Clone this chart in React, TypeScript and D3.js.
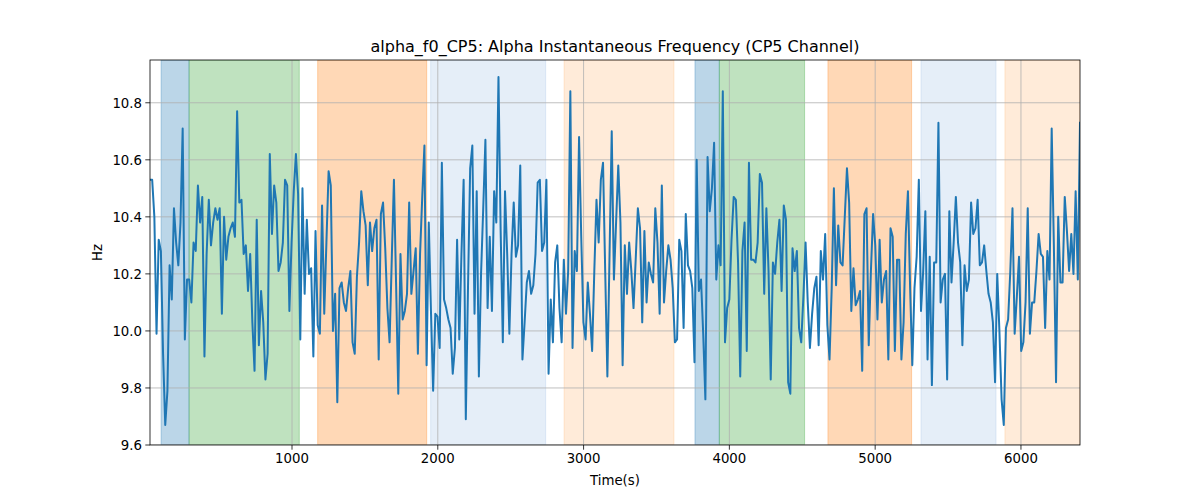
import React from "react";
import * as d3 from "d3";

const T_START = 26;
const T_END = 6405;

const values: number[] = [
  // segment 1
  10.53, 10.53, 10.40, 9.99, 10.32, 10.28, 9.92, 9.67, 9.79, 10.23, 10.11, 10.43, 10.31, 10.23, 10.38, 10.71, 9.97, 10.18, 10.18, 10.10,
  10.31, 10.28, 10.51, 10.38, 10.47, 9.91, 10.27, 10.46, 10.30, 10.38, 10.43, 10.39, 10.43, 10.06, 10.40, 10.25, 10.33, 10.36, 10.38, 10.33,
  10.77, 10.45, 10.46, 10.27, 10.30, 10.14, 10.27, 10.03, 9.86, 10.39, 9.95, 10.14, 10.03, 9.83, 9.92, 10.62,
  // segment 2
  10.34, 10.51, 10.45, 10.21, 10.24, 10.31, 10.53, 10.51, 10.07, 10.31, 10.49, 10.62, 10.48, 9.97, 10.50, 10.13, 10.39, 10.20, 10.22, 9.91,
  10.35, 10.02, 9.99, 10.44, 10.06, 10.31, 10.56, 10.51, 10.00, 10.13, 9.75, 10.15, 10.17, 10.10, 10.07, 10.15, 10.21, 9.96, 9.92, 10.19,
  10.31, 10.49, 10.42, 10.37, 10.16, 10.38, 10.28, 10.36, 10.39, 9.90, 10.41, 10.45, 10.29, 10.08, 9.96,
  // segment 3
  10.25, 10.53, 10.16, 9.78, 10.27, 10.04, 10.07, 10.13, 10.45, 10.13, 10.21, 10.29, 9.92, 10.27, 10.47, 10.65, 9.88, 10.38, 10.07, 9.79,
  10.06, 10.05, 9.94, 10.59, 10.11, 10.08, 10.04, 10.01, 9.85, 9.94, 10.32, 9.97, 10.27, 10.53, 9.69, 10.15, 10.57, 10.65, 10.06, 10.49,
  9.84, 10.20, 10.43, 10.67, 10.08, 10.33, 10.07, 10.49, 10.38, 10.89, 10.35, 9.96, 10.49, 10.27, 9.99,
  // segment 4
  10.27, 10.45, 10.26, 10.30, 10.58, 9.90, 10.03, 10.17, 10.21, 10.13, 10.16, 10.27, 10.52, 10.53, 10.28, 10.31, 10.53, 9.85, 10.11, 9.96,
  10.24, 10.30, 10.08, 9.96, 10.25, 10.06, 10.21, 10.84, 9.94, 10.28, 10.21, 10.68, 10.33, 10.03, 9.97, 10.17, 10.06, 9.93, 10.21, 10.46,
  10.31, 10.53, 10.59, 10.21, 9.84, 10.27, 10.70, 10.18, 10.38, 10.58, 10.38, 9.88, 10.30, 10.13, 10.31,
  // segment 5
  10.21, 10.08, 10.25, 10.43, 10.36, 10.03, 10.35, 10.10, 10.24, 10.20, 10.17, 10.43, 10.31, 10.06, 10.51, 10.10, 10.21, 10.30, 10.25, 10.15,
  9.96, 9.97, 10.32, 10.28, 10.01, 10.41, 10.23, 10.21, 10.15, 9.89, 10.60, 10.14, 10.18, 9.99, 9.76, 10.61, 10.42, 10.50, 10.66, 10.18,
  10.30, 10.23, 10.84, 9.96, 10.08, 10.11, 10.32, 10.47, 10.46, 10.24, 9.84, 10.28, 10.38, 9.93, 10.59,
  // segment 6
  10.25, 10.25, 10.24, 10.31, 10.55, 10.52, 10.13, 10.43, 10.21, 9.83, 10.24, 10.20, 10.31, 10.39, 10.14, 10.44, 10.39, 9.82, 9.78, 10.29,
  10.21, 10.28, 10.01, 9.96, 10.12, 10.31, 10.10, 9.94, 10.06, 10.15, 10.19, 9.95, 10.28, 10.18, 10.34, 10.02, 9.90, 10.15, 10.50, 10.16,
  10.37, 10.24, 10.23, 10.40, 10.57, 10.45, 10.07, 10.22, 10.09, 10.11, 10.14, 9.86, 10.41, 10.43, 9.95,
  // segment 7
  10.21, 10.41, 10.30, 10.04, 10.32, 10.10, 10.18, 10.21, 9.90, 10.36, 10.33, 9.93, 10.25, 10.25, 9.90, 10.03, 10.34, 10.49, 10.15, 9.88,
  10.15, 10.26, 10.53, 10.07, 10.21, 10.42, 9.90, 10.26, 9.81, 10.24, 10.24, 10.73, 10.10, 10.18, 10.20, 9.83, 10.42, 10.17, 10.31, 10.47,
  10.31, 10.24, 9.95, 10.23, 10.14, 10.18, 10.45, 10.34, 10.36, 10.46, 10.23, 10.24, 10.30, 10.21, 10.13,
  // segment 8
  10.10, 10.03, 9.82, 10.20, 10.00, 9.76, 9.67, 10.01, 10.04, 10.21, 10.43, 9.99, 10.12, 10.26, 9.93, 9.96, 10.10, 10.43, 9.99, 10.10,
  10.10, 10.21, 10.34, 10.27, 10.26, 10.01, 10.28, 10.18, 10.71, 10.30, 9.82, 10.40, 10.17, 10.17, 10.47, 10.35, 10.21, 10.34, 10.20, 10.49,
  10.18, 10.73,
];

// shaded intervals: [start, end, color, opacity]
const spanStarts = [102, 294, 1176, 1951, 2866, 3764, 3931, 4676, 5314, 5890];
const spanEnds = [294, 1050, 1924, 2740, 3620, 3931, 4516, 5250, 5829, 6405];
const spanColors = ["#1f77b4", "#2ca02c", "#ff7f0e", "#6d9fd6", "#ffa552", "#1f77b4", "#2ca02c", "#ff7f0e", "#6d9fd6", "#ffa552"];
const spanOpacity = [0.3, 0.3, 0.3, 0.18, 0.22, 0.3, 0.3, 0.3, 0.18, 0.22];

const xTicks = [1000, 2000, 3000, 4000, 5000, 6000];
const yTicks = [9.6, 9.8, 10.0, 10.2, 10.4, 10.6, 10.8];

const TITLE = "alpha_f0_CP5: Alpha Instantaneous Frequency (CP5 Channel)";

export default function App() {
  const W = 1200, H = 500;
  const L = 150, R = 1080, T = 60, B = 445;
  const n = values.length;
  const times = values.map((_, i) => T_START + (i * (T_END - T_START)) / (n - 1));
  const x = d3.scaleLinear().domain([T_START, T_END]).range([L, R]);
  const y = d3.scaleLinear().domain([9.6, 10.95]).range([B, T]);
  const line = d3
    .line<number>()
    .x((_, i) => x(times[i]))
    .y((d) => y(d));
  const font = "DejaVu Sans, sans-serif";
  return (
    <svg
      width={W}
      height={H}
      style={{ position: "absolute", left: 0, top: 0, background: "#fff" }}
      fontFamily={font}
    >
      <rect x={0} y={0} width={W} height={H} fill="#fff" />
      <defs>
        <clipPath id="plotclip">
          <rect x={L} y={T} width={R - L} height={B - T} />
        </clipPath>
      </defs>
      <g clipPath="url(#plotclip)">
        {spanStarts.map((s, i) => (
          <rect
            key={i}
            x={x(s)}
            y={T}
            width={x(spanEnds[i]) - x(s)}
            height={B - T}
            fill={spanColors[i]}
            fillOpacity={spanOpacity[i]}
            stroke={spanColors[i]}
            strokeOpacity={spanOpacity[i]}
            strokeWidth={1}
          />
        ))}
        {xTicks.map((t) => (
          <line key={"gx" + t} x1={x(t)} x2={x(t)} y1={T} y2={B} stroke="#b0b0b0" strokeWidth={0.8} />
        ))}
        {yTicks.map((t) => (
          <line key={"gy" + t} x1={L} x2={R} y1={y(t)} y2={y(t)} stroke="#b0b0b0" strokeWidth={0.8} />
        ))}
        <path d={line(values) || ""} fill="none" stroke="#1f77b4" strokeWidth={2} strokeLinejoin="round" strokeLinecap="square" />
      </g>
      <rect x={L} y={T} width={R - L} height={B - T} fill="none" stroke="#000" strokeWidth={0.8} />
      {xTicks.map((t) => (
        <g key={"tx" + t}>
          <line x1={x(t)} x2={x(t)} y1={B} y2={B + 4.7} stroke="#000" strokeWidth={0.8} />
          <text x={x(t)} y={B + 18} textAnchor="middle" fontSize={13.3} fill="#000">
            {t}
          </text>
        </g>
      ))}
      {yTicks.map((t) => (
        <g key={"ty" + t}>
          <line x1={L - 4.7} x2={L} y1={y(t)} y2={y(t)} stroke="#000" strokeWidth={0.8} />
          <text x={L - 8} y={y(t) + 4.8} textAnchor="end" fontSize={13.3} fill="#000">
            {t.toFixed(1)}
          </text>
        </g>
      ))}
      <text x={(L + R) / 2} y={T - 8} textAnchor="middle" fontSize={16} fill="#000">
        {TITLE}
      </text>
      <text x={(L + R) / 2} y={B + 40} textAnchor="middle" fontSize={13.3} fill="#000">
        Time(s)
      </text>
      <text
        transform={`translate(${L - 48},${(T + B) / 2}) rotate(-90)`}
        textAnchor="middle"
        fontSize={13.3}
        fill="#000"
      >
        Hz
      </text>
    </svg>
  );
}
